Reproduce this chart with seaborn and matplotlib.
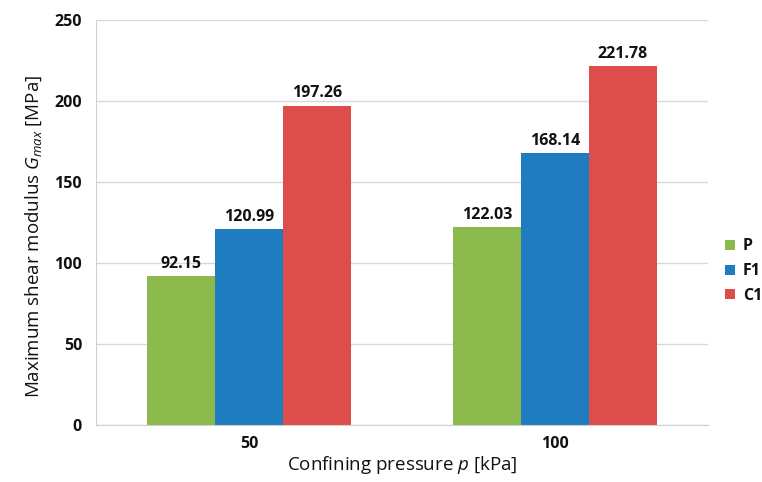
import matplotlib
matplotlib.use("Agg")
import matplotlib.pyplot as plt
import pandas as pd
import seaborn as sns

pressures = ["50", "100"]
series = ["P", "F1", "C1"]
p_vals = [92.15, 122.03]
f1_vals = [120.99, 168.14]
c1_vals = [197.26, 221.78]
colors = ["#8CB94C", "#1F7CC1", "#DC4D4B"]

df = pd.DataFrame({
    "pressure": pressures * 3,
    "series": [s for s in series for _ in pressures],
    "gmax": p_vals + f1_vals + c1_vals,
})

sns.set_style("white")
plt.rcParams["font.family"] = ["Open Sans", "DejaVu Sans"]
plt.rcParams["mathtext.fontset"] = "custom"
plt.rcParams["mathtext.it"] = "Open Sans:italic"
plt.rcParams["mathtext.rm"] = "Open Sans"

fig = plt.figure(figsize=(7.62, 4.82), dpi=100)
ax = fig.add_axes([0.126, 0.118, 0.803, 0.840])

sns.barplot(data=df, x="pressure", y="gmax", hue="series", order=pressures,
            hue_order=series, palette=colors, width=2 / 3, saturation=1,
            edgecolor="none", ax=ax)

for cont in ax.containers:
    ax.bar_label(cont, fmt="%.2f", padding=3, fontsize=11.5, fontweight="bold",
                 color="#111111")

ax.set_ylim(0, 250)
ax.set_xlim(-0.5, 1.5)
ax.set_yticks(range(0, 251, 50))
ax.yaxis.grid(True, color="#D9D9D9", linewidth=1)
ax.set_axisbelow(True)
for s in ["top", "right"]:
    ax.spines[s].set_visible(False)
for s in ["left", "bottom"]:
    ax.spines[s].set_color("#D0D0D0")
ax.tick_params(axis="y", length=6, color="#D0D0D0", labelsize=11.5, pad=4,
               labelcolor="#111111")
ax.tick_params(axis="x", which="major", length=0, labelsize=11.5, pad=8,
               labelcolor="#111111")
ax.set_xticks([-0.5, 0.5, 1.5], minor=True)
ax.tick_params(axis="x", which="minor", length=5, color="#D0D0D0")
for lab in ax.get_xticklabels() + ax.get_yticklabels():
    lab.set_fontweight("bold")

ax.set_xlabel("Confining pressure $p$ [kPa]", fontsize=13.5, labelpad=1,
              color="#111111")
ax.set_ylabel("Maximum shear modulus $G_{max}$ [MPa]", fontsize=13.5,
              color="#111111")
ax.yaxis.set_label_coords(-0.085, 0.465)

leg = ax.legend(loc="center left", bbox_to_anchor=(1.0, 0.38), frameon=False,
                handlelength=0.6, handleheight=0.6, handletextpad=0.5,
                labelspacing=0.55, fontsize=11.5, borderpad=0,
                borderaxespad=1.1)
for t in leg.get_texts():
    t.set_fontweight("bold")
    t.set_color("#111111")

fig.savefig("out.png", dpi=100)
